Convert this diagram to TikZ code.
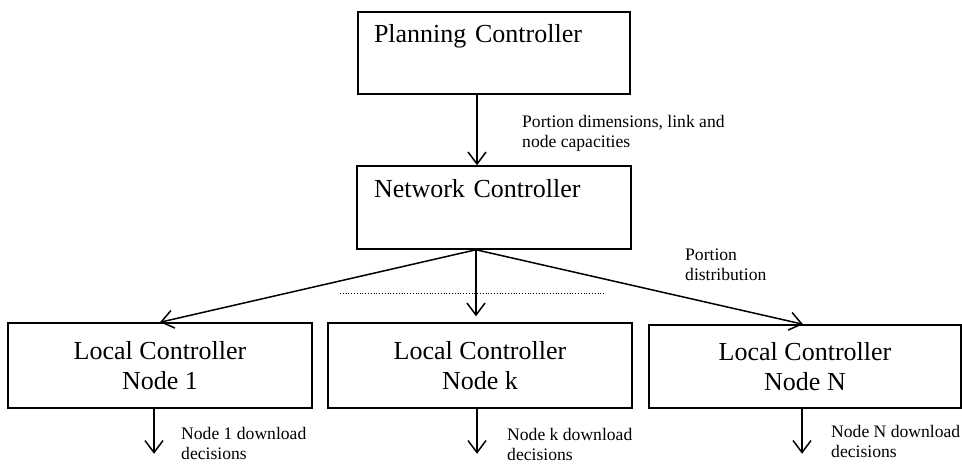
\documentclass[tikz,border=0pt]{standalone}
\usepackage{fontspec}
\setmainfont{Liberation Serif}
\usetikzlibrary{arrows.meta}

\begin{document}
\begin{tikzpicture}[x=1pt, y=-1pt,
    box/.style={draw, line width=1.5pt, inner ysep=0pt, font=\fontsize{26}{30}\selectfont},
    lbl/.style={anchor=west, inner sep=0pt, align=left, font=\fontsize{17.6}{20}\selectfont},
    arr/.style={line width=1.5pt, -{Straight Barb[length=12pt, width=18pt, line width=1.5pt]}}]
  \useasboundingbox (0,0) rectangle (962,464);

  % --- upper controllers ---
  \node[box, text width=240pt, inner xsep=16pt, align=left, minimum height=82pt] (plan) at (494,53) {Planning Controller\\\strut};
  \node[box, text width=240pt, inner xsep=17pt, align=left, minimum height=83pt] (net) at (494,207.5) {Network Controller\\\strut};

  \draw[arr] ([xshift=-17pt]plan.south) -- ([xshift=-17pt]net.north);
  \node[lbl] (lblplan) at (522,133.5) {Portion dimensions, link and\\node capacities};

  % --- local controllers ---
  \node[box, align=center, minimum width=304pt, minimum height=85pt] (lc1) at (160,365.5) {Local Controller\\Node 1};
  \node[box, align=center, minimum width=304pt, minimum height=85pt] (lck) at (480,365.5) {Local Controller\\Node k};
  \node[box, align=center, minimum width=312pt, minimum height=83pt] (lcN) at (805,366.5) {Local Controller\\Node N};

  % fan out from the network controller
  \coordinate (fan) at ([xshift=-18pt]net.south);
  \draw[arr] (fan) -- (lc1.north);
  \draw[arr, shorten >=6pt] (fan) -- (fan |- lck.north);
  \draw[arr] (fan) -- ([xshift=-2pt]lcN.north);
  \draw[dotted, line width=0.8pt] (340,293) -- (605,293);
  \node[lbl] (lbldist) at (685,264.5) {Portion\\distribution};

  % --- download decisions ---
  \foreach \b/\dx in {lc1/-6, lck/-3, lcN/-3}
    \draw[arr] ([xshift=\dx pt]\b.south) -- ++(0,45);
  \node[lbl] (lbl1) at (181,443) {Node 1 download\\decisions};
  \node[lbl] (lblk) at (507,444) {Node k download\\decisions};
  \node[lbl] (lblN) at (831,441) {Node N download\\decisions};
\end{tikzpicture}
\end{document}
